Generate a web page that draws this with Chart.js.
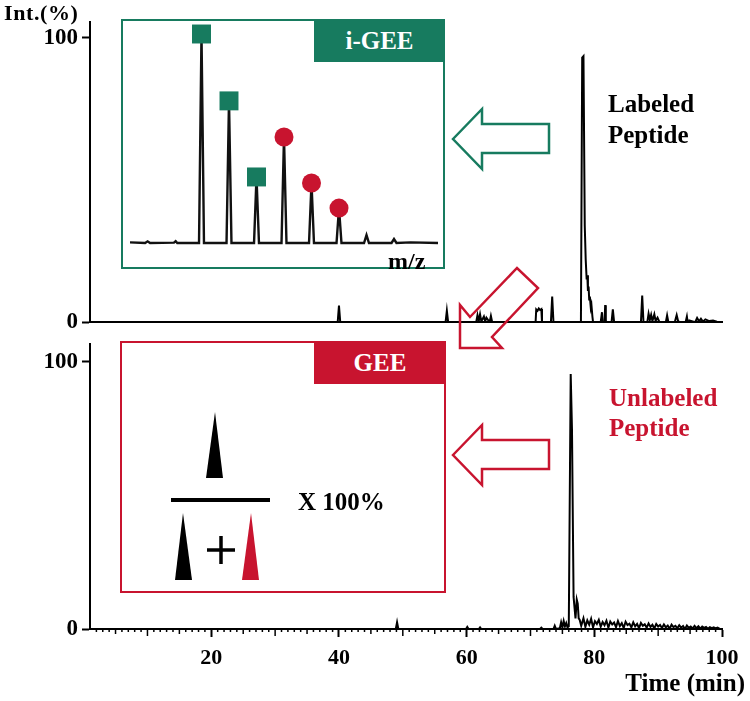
<!DOCTYPE html>
<html lang="en">
<head>
  <meta charset="UTF-8" />
  <title>Labeled / Unlabeled Peptide</title>
  <script src="https://cdn.jsdelivr.net/npm/chart.js"></script>
  <style>
    body {
      margin: 0;
      background: #fff;
      overflow: hidden;
      font-family: "Liberation Serif", "Times New Roman", serif;
    }
    #wrap { position: relative; width: 750px; height: 701px; }
    canvas, svg { position: absolute; }
    .lbl {
      position: absolute;
      font-weight: bold;
      white-space: nowrap;
      line-height: 1;
      color: #000;
    }
    .box { position: absolute; box-sizing: border-box; border: 2px solid; }
    .tag {
      position: absolute;
      color: #fff;
      font-weight: bold;
      font-size: 25px;
      text-align: center;
      z-index: 2;
    }
  </style>
</head>
<body>
<div id="wrap">
  <canvas id="topChart" width="750" height="340" style="left:0;top:0"></canvas>
  <canvas id="bottomChart" width="750" height="375" style="left:0;top:326px"></canvas>

  <!-- i-GEE inset -->
  <div class="box" style="left:121px;top:19px;width:324px;height:250px;border-color:#177b5f"></div>
  <div class="tag" style="left:314px;top:19px;width:131px;height:43px;line-height:43px;background:#177b5f">i-GEE</div>
  <canvas id="specChart" width="320" height="244" style="left:124px;top:22px"></canvas>
  <div class="lbl" style="left:388px;top:249px;font-size:24px">m/z</div>

  <!-- GEE inset -->
  <div class="box" style="left:120px;top:341px;width:326px;height:252px;border-color:#c8142f"></div>
  <div class="tag" style="left:314px;top:341px;width:132px;height:43px;line-height:43px;background:#c8142f">GEE</div>
  <div class="lbl" style="left:298px;top:489px;font-size:25px">X 100%</div>

  <svg width="750" height="701" style="left:0;top:0">
    <polygon points="215,412 206,478 223,478" fill="#000"/>
    <rect x="171" y="498" width="99" height="4" fill="#000"/>
    <polygon points="183,513 175,580 192,580" fill="#000"/>
    <line x1="207" y1="550" x2="235" y2="550" stroke="#000" stroke-width="3.5"/>
    <line x1="221" y1="536" x2="221" y2="564" stroke="#000" stroke-width="3.5"/>
    <polygon points="251,513 242,580 259,580" fill="#c8142f"/>

    <polygon points="453,139 482,109 482,124 549,124 549,153 482,153 482,169"
             fill="none" stroke="#177b5f" stroke-width="2.5"/>
    <polygon points="453,455 482,425 482,440 549,440 549,469 482,469 482,485"
             fill="none" stroke="#c8142f" stroke-width="2.5"/>
    <polygon points="460,348 460,305 470,317 517,268 538,288 492,337 502,348"
             fill="none" stroke="#c8142f" stroke-width="2.5"/>
  </svg>

  <div class="lbl" style="left:4px;top:2px;font-size:22px;letter-spacing:0.6px">Int.(%)</div>
  <div class="lbl" style="left:608px;top:88px;font-size:25px;line-height:31px">Labeled<br>Peptide</div>
  <div class="lbl" style="left:609px;top:383px;font-size:25px;line-height:30px;color:#c8142f">Unlabeled<br>Peptide</div>
  <div class="lbl" style="right:5px;top:670px;font-size:25px">Time (min)</div>
</div>

<script>
  // axis ticks
  const xTicks = [20, 40, 60, 80, 100];
  const yTicks = [0, 100];

  // labeled peptide (i-GEE) chromatogram, time (min) / intensity (%)
  const topTime = [1, 39.8, 40.0, 40.2, 56.7, 56.9, 57.1,
    61.5, 61.7, 61.9, 62.1, 62.3, 62.7, 62.9, 63.1, 63.6, 63.8, 64.0,
    70.8, 70.9, 71.1, 71.3, 71.5, 71.7, 71.8, 73.2, 73.4, 73.6,
    77.9, 78.1, 78.3, 78.5, 78.65, 78.8, 78.9, 79.0, 79.1, 79.2, 79.3, 79.45, 79.55, 79.7, 79.8,
    81.0, 81.2, 81.3, 81.6, 81.7, 81.8, 81.9, 82.7, 82.9, 83.1,
    87.3, 87.5, 87.7, 88.3, 88.5, 88.7, 88.9, 89.1, 89.4, 89.6, 89.9, 90.2,
    91.2, 91.4, 91.6, 92.6, 92.9, 93.1, 93.3, 94.3, 94.5, 94.7, 94.9,
    95.8, 96.1, 96.4, 96.7, 97.0, 97.4, 98.0, 98.6, 99.2, 99.7];
  const topInt = [0, 0, 5.8, 0, 0, 4.0, 0,
    0, 2.5, 0.4, 2.8, 0.3, 2.0, 0.3, 1.6, 0, 2.2, 0,
    0, 4.5, 4.0, 4.8, 4.3, 4.6, 0, 0, 9.0, 0,
    0, 93, 93.5, 34, 22, 15, 16.5, 11, 12.5, 8, 9, 5, 6, 2, 0,
    0, 3.5, 0, 0, 6.0, 0.5, 0, 0, 4.5, 0,
    0, 9.4, 0, 0, 3.0, 0.8, 2.6, 0.4, 2.8, 0.5, 1.6, 0,
    0, 2.4, 0, 0, 2.5, 0.6, 0, 0, 2.0, -1.2, 0.6,
    0, 1.5, 0.3, 1.2, 0.2, 1.0, 0.4, 0.6, 0.2, 0];

  // unlabeled peptide (GEE) chromatogram
  const botTime = [1, 48.9, 49.1, 49.3, 59.9, 60.1, 60.3, 61.9, 62.1, 62.3,
    71.5, 71.7, 71.9, 73.6, 73.8, 74.0, 74.6, 74.8, 75.0, 75.2, 75.4, 75.6, 75.8,
    76.0, 76.3, 76.5, 76.6, 76.75, 76.9, 77.05, 77.25, 77.4, 77.55, 77.7,
    77.95, 78.3, 78.6, 78.9, 79.2, 79.5, 79.8, 80.1, 80.4, 80.7, 81.0, 81.3, 81.6, 81.9,
    82.2, 82.5, 82.8, 83.1, 83.4, 83.7, 84.0, 84.3, 84.6, 84.9, 85.2, 85.5, 85.8, 86.1,
    86.4, 86.7, 87.0, 87.3, 87.6, 87.9, 88.2, 88.5, 88.8, 89.1, 89.4, 89.7, 90.0, 90.3,
    90.6, 90.9, 91.2, 91.5, 91.8, 92.1, 92.4, 92.7, 93.0, 93.3, 93.6, 93.9, 94.2, 94.5,
    94.8, 95.1, 95.4, 95.7, 96.0, 96.3, 96.6, 96.9, 97.2, 97.5, 97.8, 98.1, 98.4, 98.7,
    99.0, 99.3, 99.6, 99.8];
  const botInt = [0, 0, 2.5, 0, 0, 0.8, 0, 0, 0.6, 0,
    0, 0.5, 0, 0, 1.2, 0, 0.3, 2.5, 0.5, 3.0, 1.0, 2.2, 0.6,
    1.0, 95.5, 75, 49, 12, 8, 4, 11, 9.5, 4, 3.5,
    1.2, 4.0, 0.8, 3.2, 1.6, 3.8, 0.6, 2.9, 1.9, 3.4, 0.9, 2.6, 1.4, 3.1,
    0.5, 2.8, 1.7, 2.4, 0.7, 3.0, 1.1, 2.2, 0.4, 2.7, 1.5, 2.0, 0.6, 2.5,
    1.0, 1.9, 0.3, 2.3, 1.2, 1.8, 0.5, 2.1, 0.8, 1.6, 0.2, 1.9, 0.9, 1.5,
    0.4, 1.7, 0.6, 1.3, 0.1, 1.6, 0.7, 1.2, 0.3, 1.4, 0.5, 1.1, 0, 1.3,
    0.4, 0.9, 0.2, 1.2, 0.3, 1.0, 0.1, 0.9, 0.4, 0.8, 0.1, 0.7, 0.3, 0.6,
    0.2, 0.5, 0.1, 0];

  // inset mass spectrum: isotope peaks
  const peakMz = [1, 2, 3, 4, 5, 6, 7, 8];
  const peakInt = [100, 68, 31.6, 50.7, 28.7, 16.7, 3.8, 1.9];
  const peakMark = ['rect', 'rect', 'rect', 'circle', 'circle', 'circle', null, null];
  const noiseMz = [-1.6, -1.05, -0.96, -0.87, 0.0, 0.06, 0.12, 8.6, 9.6];
  const noiseInt = [0.3, 0, 0.8, 0, 0.2, 0.9, 0, 0.3, 0];

  const GREEN = '#177b5f', RED = '#c8142f';
  const FONT = '"Liberation Serif", "Times New Roman", serif';

  const pairs = (xs, ys) => xs.map((x, i) => ({ x: x, y: ys[i] }));

  const minorTicks = {
    id: 'minorTicks',
    afterDraw(chart) {
      const sx = chart.scales.x, ctx = chart.ctx, y0 = chart.chartArea.bottom;
      ctx.save();
      ctx.strokeStyle = '#000';
      ctx.lineWidth = 1.5;
      for (let v = 2; v <= 100; v++) {
        if (xTicks.includes(v)) continue;
        const len = v % 10 === 0 ? 7 : v % 5 === 0 ? 5 : 3;
        const px = sx.getPixelForValue(v);
        ctx.beginPath();
        ctx.moveTo(px, y0);
        ctx.lineTo(px, y0 + len);
        ctx.stroke();
      }
      ctx.restore();
    }
  };

  function chromOptions(yMax, padTop, xHeight, showX) {
    return {
      responsive: false,
      animation: false,
      layout: { autoPadding: false, padding: { top: padTop, right: 28, left: 0, bottom: 0 } },
      plugins: { legend: { display: false }, tooltip: { enabled: false } },
      scales: {
        x: {
          type: 'linear', min: 1, max: 100,
          afterFit: s => { s.height = xHeight; },
          afterBuildTicks: s => { s.ticks = xTicks.map(v => ({ value: v })); },
          ticks: { display: showX, color: '#000', padding: 8, maxRotation: 0,
                   font: { family: FONT, size: 22, weight: 'bold' } },
          grid: { display: showX, drawOnChartArea: false, tickLength: 8,
                  tickColor: '#000', tickWidth: 2 },
          border: { display: true, color: '#000', width: 2 }
        },
        y: {
          min: 0, max: yMax,
          afterFit: s => { s.width = 90; },
          afterBuildTicks: s => { s.ticks = yTicks.map(v => ({ value: v })); },
          ticks: { color: '#000', padding: 4, font: { family: FONT, size: 23, weight: 'bold' } },
          grid: { drawOnChartArea: false, tickLength: 8, tickColor: '#000', tickWidth: 2 },
          border: { display: true, color: '#000', width: 2 }
        }
      }
    };
  }

  function chromDataset(xs, ys) {
    return {
      data: pairs(xs, ys),
      borderColor: '#000',
      borderWidth: 2,
      pointRadius: 0,
      tension: 0
    };
  }

  new Chart(document.getElementById('topChart'), {
    type: 'line',
    data: { datasets: [chromDataset(topTime, topInt)] },
    options: chromOptions(105.5, 22, 16, false)
  });

  new Chart(document.getElementById('bottomChart'), {
    type: 'line',
    data: { datasets: [chromDataset(botTime, botInt)] },
    options: chromOptions(106.8, 3, 72, true),
    plugins: [minorTicks]
  });

  // spectrum trace: baseline noise plus a narrow stick for each isotope peak
  const trace = pairs(noiseMz, noiseInt);
  peakMz.forEach((m, i) => {
    trace.push({ x: m - 0.09, y: 0 }, { x: m, y: peakInt[i] }, { x: m + 0.09, y: 0 });
  });
  trace.sort((a, b) => a.x - b.x);

  new Chart(document.getElementById('specChart'), {
    type: 'line',
    data: {
      datasets: [
        {
          data: trace, borderColor: '#111', borderWidth: 2.4, pointRadius: 0,
          tension: 0, clip: false, order: 2
        },
        {
          data: pairs(peakMz, peakInt),
          showLine: false, clip: false, order: 1,
          pointStyle: ctx => peakMark[ctx.dataIndex] || 'circle',
          pointRadius: ctx => {
            const m = peakMark[ctx.dataIndex];
            return m === 'rect' ? 13.4 : m === 'circle' ? 9.5 : 0;
          },
          pointBackgroundColor: ctx => peakMark[ctx.dataIndex] === 'rect' ? GREEN : RED,
          pointBorderWidth: 0
        }
      ]
    },
    options: {
      responsive: false,
      animation: false,
      layout: { autoPadding: false, padding: { left: 6, right: 6, top: 12, bottom: 23 } },
      plugins: { legend: { display: false }, tooltip: { enabled: false } },
      scales: {
        x: { type: 'linear', min: -1.6, max: 9.6, display: false },
        y: { min: 0, max: 100, display: false }
      }
    }
  });
</script>
</body>
</html>
